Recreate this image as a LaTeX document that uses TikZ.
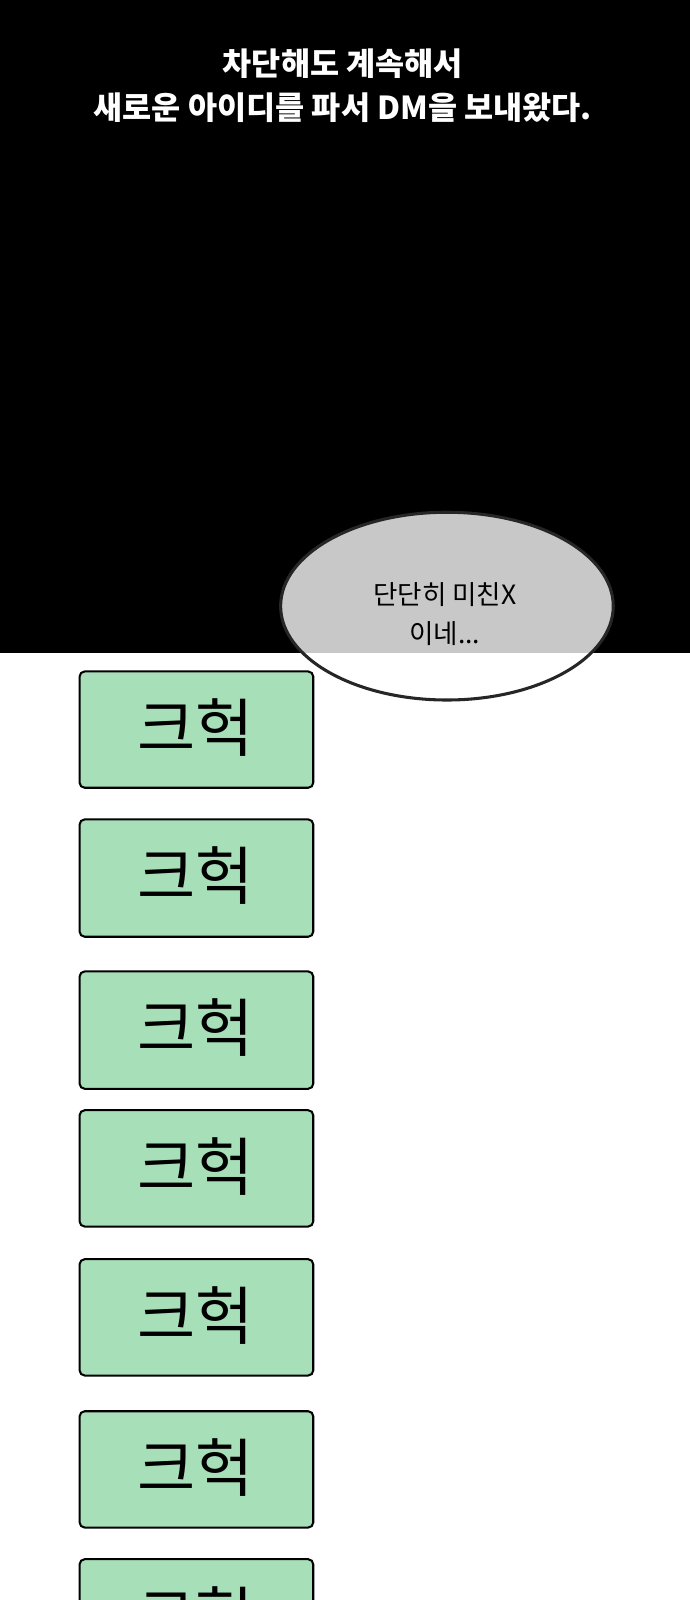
\documentclass[tikz,border=0pt]{standalone}
\usetikzlibrary{shapes.geometric}
\usepackage{fontspec}
\newfontfamily\kr{Noto Sans CJK KR}
\definecolor{boxg}{HTML}{A6DFB8}
\definecolor{bub}{HTML}{C8C8C8}
\begin{document}
\begin{tikzpicture}[x=1pt,y=-1pt,
  box/.style={draw=black,line width=2pt,fill=boxg,rounded corners=5pt,minimum width=229pt,anchor=north west,inner sep=0pt}]
\useasboundingbox (0,0) rectangle (676,1568);
\fill[white] (0,0) rectangle (676,1568);
\fill[black] (0,0) rectangle (676,640);
\node[text=white,align=center,font=\kr\bfseries\fontsize{31}{43}\selectfont] (title) at (336,84) {차단해도 계속해서\\새로운 아이디를 파서 DM을 보내왔다.};
\begin{scope}
\clip (0,0) rectangle (676,640);
\fill[bub] (438,594) ellipse [x radius=163, y radius=92];
\end{scope}
\begin{scope}
\clip (0,640) rectangle (676,1568);
\fill[white] (438,594) ellipse [x radius=163, y radius=92];
\end{scope}
\node[draw=black!85,line width=3pt,ellipse,minimum width=326pt,minimum height=184pt] (bubble) at (438,594) {};
\node[align=center,font=\kr\fontsize{26}{38}\selectfont] (btext) at (436,602) {단단히 미친X\\이네...};
\foreach \n/\t/\h in {1/657/114,2/802/115,3/951/115,4/1087/114,5/1233/114,6/1382/114,7/1527/100}{
  \node[box,minimum height=\h pt] (b\n) at (77,\t) {};
  \node[font=\kr\fontsize{62}{66}\selectfont] (t\n) at (192,\t+56) {크헉};
}
\end{tikzpicture}
\end{document}
